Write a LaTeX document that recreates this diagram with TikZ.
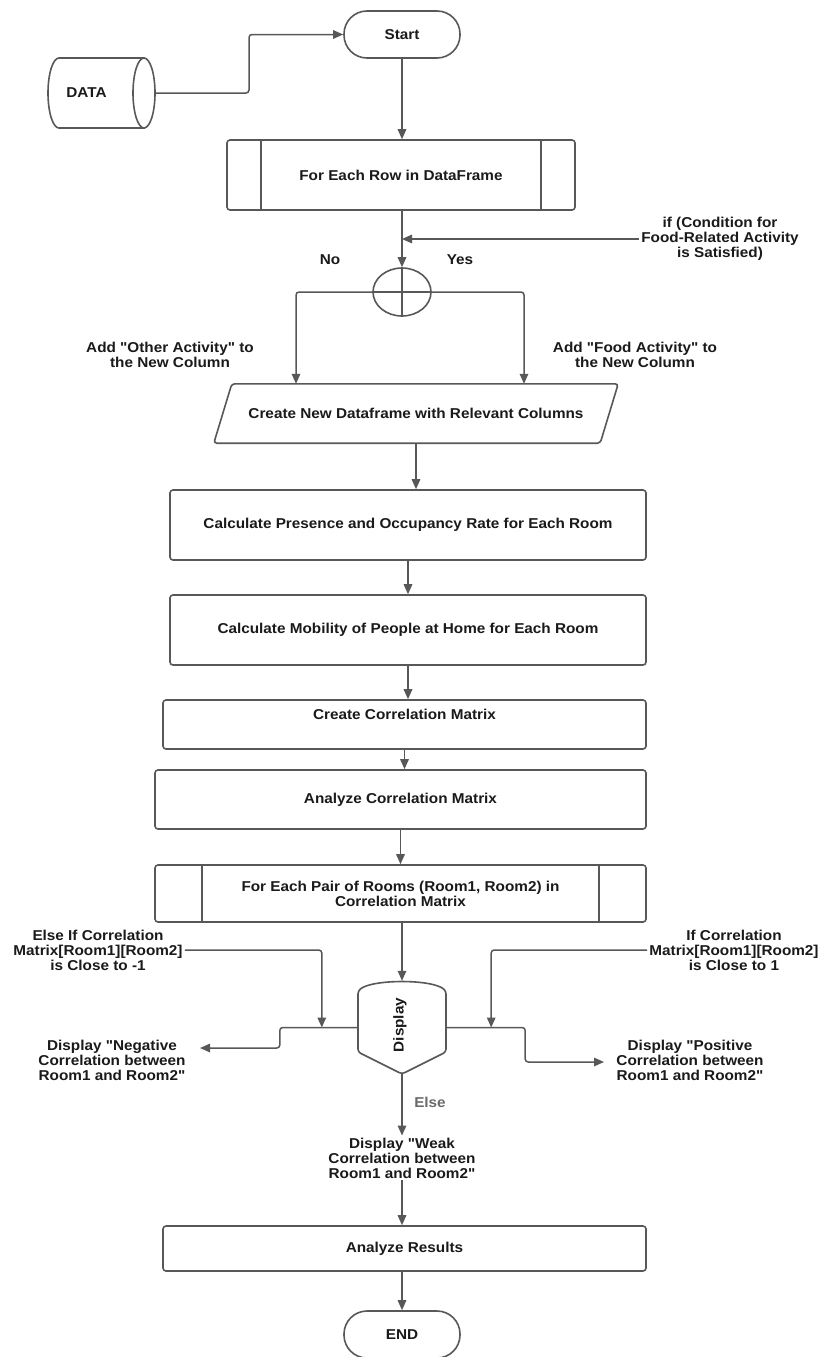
\documentclass[tikz,border=0pt]{standalone}
\usepackage{fontspec}
\setmainfont{Liberation Sans}[FakeStretch=1.07, Ligatures=TeXOff]
\usetikzlibrary{arrows.meta,shapes.geometric,calc}
\definecolor{lc}{HTML}{585858}
\definecolor{tc}{HTML}{1A1A1A}
\definecolor{ec}{HTML}{6A6A6A}
\newcommand{\myq}{"}
\begin{document}
\begin{tikzpicture}[x=1pt,y=-1pt,
  every node/.style={font=\fontsize{14.3}{15}\selectfont\bfseries, text=tc},
  ln/.style={draw=lc, line width=1.5pt, rounded corners=3pt},
  arr/.style={ln, -{Triangle[length=10pt,width=8.5pt]}},
  box/.style={draw=lc, line width=1.6pt, rounded corners=3pt, fill=white, inner sep=0pt, align=center},
  pill/.style={draw=lc, line width=1.6pt, rounded corners=23pt, minimum width=116pt, minimum height=47pt, inner sep=0pt},
  lbl/.style={align=center, inner sep=2pt},
  shp/.style={draw=lc, line width=1.6pt, fill=white, rounded corners=3pt}
]
\path[use as bounding box, fill=white] (0,0) rectangle (822,1357);

% Start and data
\node[pill] (start) at (402,34.5) {Start};
\node[minimum width=106pt, minimum height=70pt, inner sep=0pt] (data) at (102,93) {};
\path[draw=lc, line width=1.6pt, fill=white] (59,58) -- (144,58) -- (144,128) -- (59,128)
  arc[start angle=270, end angle=90, x radius=11pt, y radius=35pt] -- cycle;
\draw[draw=lc, line width=1.6pt, fill=white] (144,93) ellipse [x radius=11pt, y radius=35pt];
\node (datat) at (86.5,93) {DATA};
\coordinate (dbend) at (249,60);
\draw[arr] (data.east) -| (dbend) |- (start.west);

% For each row
\node[box, minimum width=348pt, minimum height=70pt] (row) at (401,175) {For Each Row in DataFrame};
\draw[ln] ($(row.north west)+(35,0)$) -- ($(row.south west)+(35,0)$);
\draw[ln] ($(row.north east)+(-35,0)$) -- ($(row.south east)+(-35,0)$);
\draw[arr] (start.south) -- (start.south |- row.north);

% junction
\node[draw=lc, line width=1.6pt, ellipse, minimum width=58pt, minimum height=48pt, inner sep=0pt] (j) at (402,292) {};
\draw[ln] (j.north) -- (j.south);
\draw[arr] (row.south -| j.north) -- (j.north);
\node[lbl] (cond) at (720,239) {if (Condition for\\Food-Related Activity\\is Satisfied)};
\draw[arr] (cond.west) -- (cond.west -| j.north);
\node (no) at (330,260) {No};
\node (yes) at (460,260) {Yes};

% parallelogram
\node[minimum width=404pt, minimum height=59pt, inner sep=0pt] (para) at (416,413.5) {Create New Dataframe with Relevant Columns};
\draw[shp, fill=none] (para.south west) -- ($(para.north west)+(18,0)$) -- (para.north east) -- ($(para.south east)+(-18,0)$) -- cycle;
\coordinate (jl) at (296,292);
\coordinate (jr) at (524,292);
\draw[ln] (j.west) -- (j.east);
\draw[arr] (j.west) -- (jl) -- (jl |- para.north);
\draw[arr] (j.east) -- (jr) -- (jr |- para.north);
\node[lbl] (oth) at (170,354.5) {Add \myq Other Activity\myq{} to\\the New Column};
\node[lbl] (food) at (635,354.5) {Add \myq Food Activity\myq{} to\\the New Column};

% process boxes
\node[box, minimum width=476pt, minimum height=70pt] (b1) at (408,525) {Calculate Presence and Occupancy Rate for Each Room};
\draw[arr] (para.south) -- (para.south |- b1.north);
\node[box, minimum width=476pt, minimum height=70pt] (b2) at (408,630) {Calculate Mobility of People at Home for Each Room};
\draw[arr] (b1.south) -- (b2.north);
\node[box, minimum width=483pt, minimum height=49pt,
  label={[name=b3t, anchor=center, yshift=-15pt]north:Create Correlation Matrix}] (b3) at (404.5,724.5) {};
\draw[arr] (b2.south) -- (b2.south |- b3.north);
\node[box, minimum width=491pt, minimum height=59pt] (b4) at (400.5,799.5) {Analyze Correlation Matrix};
\draw[arr] (b3.south) -- (b3.south |- b4.north);
\node[box, minimum width=491pt, minimum height=57pt] (b5) at (400.5,893.5) {For Each Pair of Rooms (Room1, Room2) in\\Correlation Matrix};
\draw[ln] ($(b5.north west)+(48,0)$) -- ($(b5.south west)+(48,0)$);
\draw[ln] ($(b5.north east)+(-48,0)$) -- ($(b5.south east)+(-48,0)$);
\draw[arr] (b4.south) -- (b4.south |- b5.north);

% display
\node[minimum width=88pt, minimum height=93pt, inner sep=0pt] (disp) at (402,1027.5) {};
\draw[shp] (358,991) .. controls (372,979) and (432,979) .. (446,991) -- (446,1052) -- (402,1074) -- (358,1052) -- cycle;
\node[rotate=90] (dispt) at (400,1025) {Display};
\draw[arr] (b5.south -| disp.north) -- (disp.north);

\node[lbl] (elif) at (98,950) {Else If Correlation\\Matrix[Room1][Room2]\\is Close to -1};
\draw[arr] (elif.east) -| ($(disp.west)+(-36,0)$);
\node[lbl] (ifc) at (734,950) {If Correlation\\Matrix[Room1][Room2]\\is Close to 1};
\draw[arr] (ifc.west) -| ($(disp.east)+(45,0)$);

\node[lbl] (neg) at (112,1060) {Display \myq Negative\\Correlation between\\Room1 and Room2\myq};
\coordinate (lb) at ($(disp.west)+(-78,0)$);
\coordinate (ntip) at (200,1048);
\draw[arr] (disp.west) -- (lb) |- (ntip);
\node[lbl] (pos) at (690,1060) {Display \myq Positive\\Correlation between\\Room1 and Room2\myq};
\coordinate (rb) at ($(disp.east)+(79,0)$);
\coordinate (ptip) at (604,1062);
\draw[arr] (disp.east) -- (rb) |- (ptip);

\node[lbl] (weak) at (402,1158) {Display \myq Weak\\Correlation between\\Room1 and Room2\myq};
\draw[arr] (disp.south) -- (weak.north);
\node[text=ec] (else) at (430,1102) {Else};

% end
\node[box, minimum width=483pt, minimum height=45pt] (ar) at (404.5,1248.5) {Analyze Results};
\draw[arr] (weak.south) -- (weak.south |- ar.north);
\node[pill] (end) at (402,1334.5) {END};
\draw[arr] (ar.south -| end.north) -- (end.north);
\end{tikzpicture}
\end{document}
